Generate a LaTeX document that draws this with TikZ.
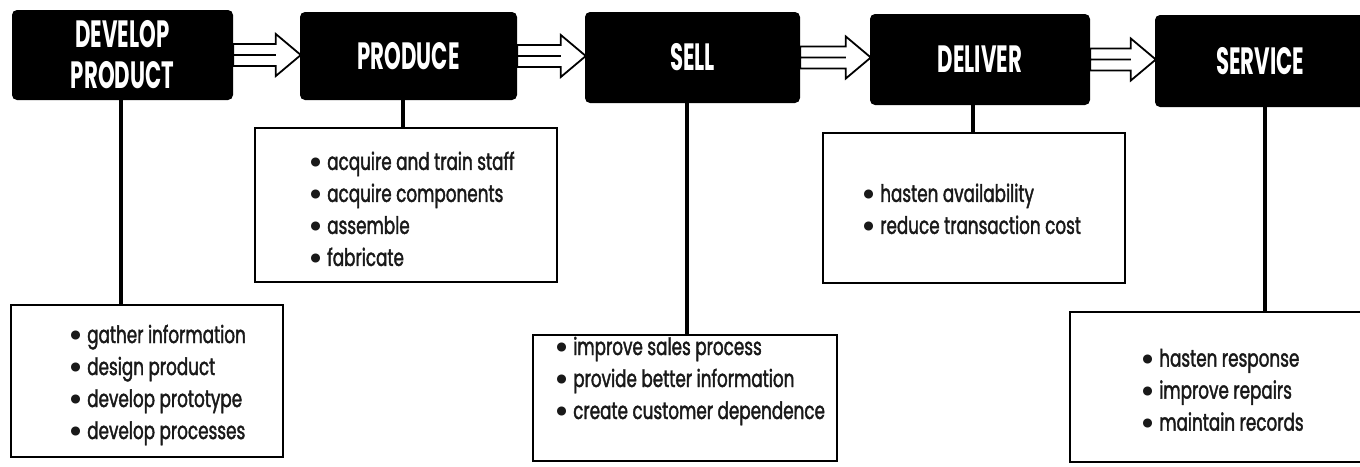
\documentclass[tikz,border=0pt]{standalone}
\usepackage{fontspec}
\usetikzlibrary{calc}
\newfontfamily\headfont{Poppins}[FakeStretch=0.56]
\newfontfamily\bodyfont{Poppins}[FakeStretch=0.70,FakeBold=1.6]
\newfontfamily\bulfont{Poppins}
\newcommand\bul{\raisebox{-2.5pt}{\bulfont\bfseries\fontsize{30}{32}\selectfont•}\hspace{4pt}}
\tikzset{
  blackbox/.style={fill=black, rounded corners=5pt, inner sep=0pt, text=white,
    font=\headfont\bfseries\fontsize{38}{41}\selectfont, align=center},
  listbox/.style={draw=black, line width=2.5pt, fill=white, inner sep=0pt},
  listtext/.style={anchor=west, inner sep=0pt, align=left,
    font=\bodyfont\fontsize{24}{32}\selectfont, text=black!90},
  stem/.style={line width=4pt, black},
  hollow/.style={draw=black, fill=white, line width=1.8pt, line join=miter}
}
\begin{document}
\begin{tikzpicture}[x=1pt,y=-1pt]
\useasboundingbox (0,0) rectangle (1360,466);
% process boxes
\node[blackbox, minimum width=221pt, minimum height=90pt] (dp) at (122.5,55) {DEVELOP\\PRODUCT};
\node[blackbox, minimum width=217pt, minimum height=88pt] (pr) at (408.5,56) {PRODUCE};
\node[blackbox, minimum width=215pt, minimum height=91pt] (se) at (692.5,57.5) {SELL};
\node[blackbox, minimum width=220pt, minimum height=91pt] (de) at (980,59.5) {DELIVER};
\node[blackbox, minimum width=210pt, minimum height=92pt] (sv) at (1260,61) {SERVICE};
% list boxes
\node[listbox, minimum width=272pt, minimum height=152pt] (g1) at (147,381) {};
\node[listbox, minimum width=302pt, minimum height=154pt] (g2) at (406,205) {};
\node[listbox, minimum width=304pt, minimum height=126pt] (g3) at (685,398) {};
\node[listbox, minimum width=302pt, minimum height=150pt] (g4) at (974,208) {};
\node[listbox, minimum width=292pt, minimum height=150pt] (g5) at (1216,387) {};
% list texts
\node[listtext] (t1) at (68,385) {\bul gather information\\\bul design product\\\bul develop prototype\\\bul develop processes};
\node[listtext] (t2) at (308,210) {\bul acquire and train staff\\\bul acquire components\\\bul assemble\\\bul fabricate};
\node[listtext] (t3) at (554,381) {\bul improve sales process\\\bul provide better information\\\bul create customer dependence};
\node[listtext] (t4) at (861,210) {\bul hasten availability\\\bul reduce transaction cost};
\node[listtext] (t5) at (1140,391) {\bul hasten response\\\bul improve repairs\\\bul maintain records};
% stems
\coordinate (s1) at ($(dp.south)+(-2,0)$);
\coordinate (s2) at ($(pr.south)+(-6,0)$);
\coordinate (s3) at ($(se.south)+(-6,0)$);
\coordinate (s4) at ($(de.south)+(-7,0)$);
\coordinate (s5) at ($(sv.south)+(5,0)$);
\draw[stem] (s1) -- (s1 |- g1.north);
\draw[stem] (s2) -- (s2 |- g2.north);
\draw[stem] (s3) -- (s3 |- g3.north);
\draw[stem] (s4) -- (s4 |- g4.north);
\draw[stem] (s5) -- (s5 |- g5.north);
% hollow arrows
\foreach \a/\b in {dp/pr,pr/se,se/de,de/sv}{
  \draw[hollow] let \p1=(\a.east), \p2=(\b.west) in
    (\x1,\y1+11pt) -- (\x2-24pt,\y1+11pt) -- (\x2-24pt,\y1+21pt) -- (\x2+1pt,\y1)
    -- (\x2-24pt,\y1-21pt) -- (\x2-24pt,\y1-11pt) -- (\x1,\y1-11pt) -- cycle
    (\x1,\y1) -- (\x2-24pt,\y1);
}
\end{tikzpicture}
\end{document}
